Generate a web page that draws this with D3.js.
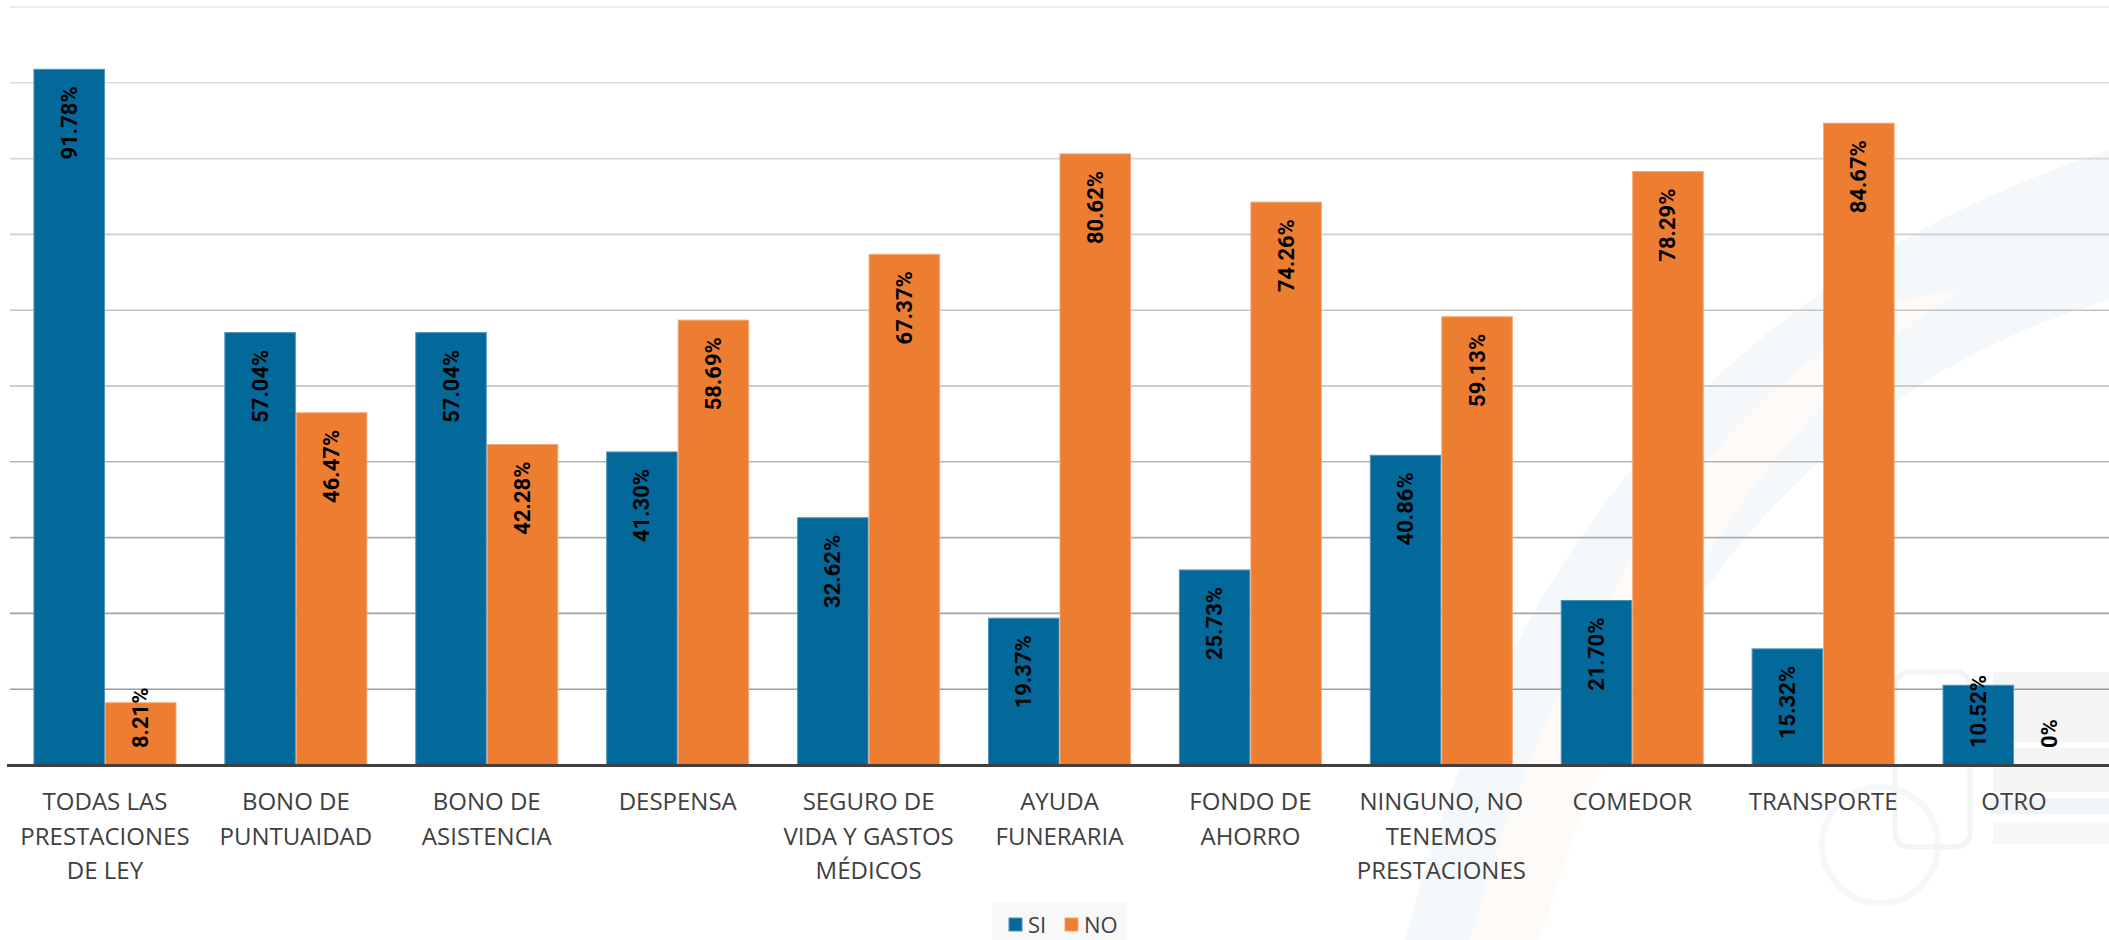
<!DOCTYPE html>
<html>
<head>
<meta charset="utf-8">
<script src="https://cdn.jsdelivr.net/npm/d3@7/dist/d3.min.js"></script>
<style>
  html, body { margin: 0; padding: 0; background: #ffffff; }
  svg { display: block; }
</style>
</head>
<body>
<svg id="chart" width="2109" height="940"></svg>
<script>
// ---------------- DATA ----------------
const categories = [
  "TODAS LAS\nPRESTACIONES\nDE LEY",
  "BONO DE\nPUNTUAIDAD",
  "BONO DE\nASISTENCIA",
  "DESPENSA",
  "SEGURO DE\nVIDA Y GASTOS\nMÉDICOS",
  "AYUDA\nFUNERARIA",
  "FONDO DE\nAHORRO",
  "NINGUNO, NO\nTENEMOS\nPRESTACIONES",
  "COMEDOR",
  "TRANSPORTE",
  "OTRO"
];
const seriesNames = ["SI", "NO"];
const siValues = [91.78, 57.04, 57.04, 41.30, 32.62, 19.37, 25.73, 40.86, 21.70, 15.32, 10.52];
const noValues = [8.21, 46.47, 42.28, 58.69, 67.37, 80.62, 74.26, 59.13, 78.29, 84.67, 0];
const siLabels = ["91.78%", "57.04%", "57.04%", "41.30%", "32.62%", "19.37%", "25.73%", "40.86%", "21.70%", "15.32%", "10.52%"];
const noLabels = ["8.21%", "46.47%", "42.28%", "58.69%", "67.37%", "80.62%", "74.26%", "59.13%", "78.29%", "84.67%", "0%"];
const yTicks = [10, 20, 30, 40, 50, 60, 70, 80, 90, 100];

// ---------------- SETUP ----------------
const W = 2109, H = 940;
const svg = d3.select("#chart");
const colors = { SI: "#02699A", NO: "#ED7D31" };
const strokes = { SI: "#4f93bb", NO: "#f3a673" };

const y = d3.scaleLinear().domain([0, 100]).range([765, 7]);
const x = d3.scaleBand().domain(d3.range(categories.length)).range([9.5, 2109.5]).padding(0);
const xs = d3.scaleBand().domain(seriesNames).range([0, x.bandwidth()]).paddingInner(0).paddingOuter(0.335);

// ---------------- WATERMARK (faint background decoration, shapes only) ----------------
const wm = svg.append("g").attr("class", "watermark");
wm.append("path")
  .attr("d", "M1405,940 Q1560,330 2109,150 L2109,300 Q1700,420 1535,940 Z")
  .attr("fill", "#f5f8fb");
wm.append("path")
  .attr("d", "M1470,940 Q1600,470 1900,300 L1960,290 Q1680,470 1540,940 Z")
  .attr("fill", "#fefaf7");
wm.append("rect").attr("x", 1993).attr("y", 672).attr("width", 116).attr("height", 70).attr("fill", "#f4f4f4");
wm.append("rect").attr("x", 1993).attr("y", 748).attr("width", 116).attr("height", 44).attr("fill", "#f5f5f5");
wm.append("rect").attr("x", 1990).attr("y", 798).attr("width", 119).attr("height", 16).attr("fill", "#f1f5f9");
wm.append("rect").attr("x", 1993).attr("y", 822).attr("width", 116).attr("height", 22).attr("fill", "#f7f7f7");
wm.append("circle").attr("cx", 1880).attr("cy", 845).attr("r", 58)
  .attr("fill", "none").attr("stroke", "#f5f7fa").attr("stroke-width", 6);
wm.append("rect").attr("x", 1895).attr("y", 672).attr("width", 75).attr("height", 175).attr("rx", 14)
  .attr("fill", "none").attr("stroke", "#f4f4f4").attr("stroke-width", 5);

// ---------------- GRIDLINES ----------------
const gridColor = d3.scaleLinear().domain([10, 100]).range(["#9c9c9c", "#e6e6e6"]);
svg.append("g").selectAll("line").data(yTicks).join("line")
  .attr("x1", 10).attr("x2", W)
  .attr("y1", d => y(d)).attr("y2", d => y(d))
  .attr("stroke", d => gridColor(d)).attr("stroke-width", 1.6);

// ---------------- BARS ----------------
const rows = categories.map((c, i) => ({ i, SI: siValues[i], NO: noValues[i], lSI: siLabels[i], lNO: noLabels[i] }));
const barData = [];
rows.forEach(r => seriesNames.forEach(s => barData.push({ i: r.i, s, v: r[s], label: r["l" + s] })));

svg.append("g").selectAll("rect").data(barData.filter(d => d.v > 0)).join("rect")
  .attr("x", d => x(d.i) + xs(d.s) + 0.5)
  .attr("width", xs.bandwidth() - 1)
  .attr("y", d => y(d.v))
  .attr("height", d => y(0) - y(d.v))
  .attr("fill", d => colors[d.s])
  .attr("stroke", d => strokes[d.s]).attr("stroke-width", 1);

// ---------------- BASELINE ----------------
svg.append("line").attr("x1", 7).attr("x2", W).attr("y1", y(0) + 0.5).attr("y2", y(0) + 0.5)
  .attr("stroke", "#404040").attr("stroke-width", 3);

// ---------------- DATA LABELS ----------------
const lblG = svg.append("g");
barData.forEach(d => {
  const cx = x(d.i) + xs(d.s) + xs.bandwidth() / 2;
  const t = lblG.append("text")
    .attr("font-family", "Roboto, 'Liberation Sans', Arial, sans-serif")
    .attr("font-weight", 700).attr("font-size", 22)
    .attr("fill", "#000000")
    .attr("text-anchor", "start")
    .attr("dominant-baseline", "central")
    .text(d.label);
  const len = t.node().getComputedTextLength();
  let bottom = y(d.v) + 17 + len;
  if (bottom > y(0) - 17) bottom = y(0) - 17;
  t.attr("transform", `translate(${cx},${bottom}) rotate(-90)`);
});

// ---------------- CATEGORY LABELS ----------------
const catG = svg.append("g");
categories.forEach((c, i) => {
  const lines = c.split("\n");
  const t = catG.append("text")
    .attr("font-family", "'Open Sans', 'Noto Sans', sans-serif")
    .attr("font-size", 24).attr("fill", "#404040")
    .attr("text-anchor", "middle");
  lines.forEach((ln, k) => {
    t.append("tspan").attr("x", x(i) + x.bandwidth() / 2).attr("y", 810 + k * 34.5).text(ln);
  });
});

// ---------------- LEGEND ----------------
const leg = svg.append("g");
leg.append("rect").attr("x", 992).attr("y", 902).attr("width", 135).attr("height", 38).attr("fill", "#f8f8f8");
const legX = d3.scaleOrdinal().domain(seriesNames).range([1009, 1065]);
seriesNames.forEach(s => {
  leg.append("rect").attr("x", legX(s)).attr("y", 918).attr("width", 13).attr("height", 13)
    .attr("fill", colors[s]).attr("stroke", strokes[s]).attr("stroke-width", 1);
  leg.append("text").attr("x", legX(s) + 19).attr("y", 933)
    .attr("font-family", "'Open Sans', 'Noto Sans', sans-serif")
    .attr("font-size", 22).attr("fill", "#404040").text(s);
});
</script>
</body>
</html>
